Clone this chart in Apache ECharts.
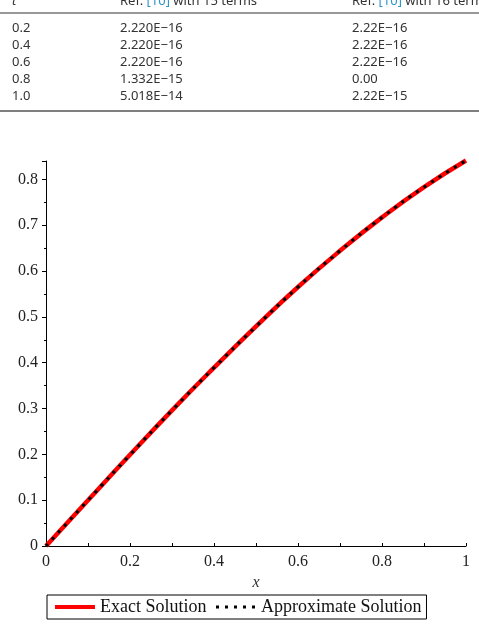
<!DOCTYPE html>
<html>
<head>
<meta charset="utf-8">
<script src="https://cdn.jsdelivr.net/npm/echarts@6/dist/echarts.min.js"></script>
<style>
  html, body { margin: 0; padding: 0; background: #fff; }
  #chart { width: 479px; height: 625px; }
</style>
</head>
<body>
<div id="chart"></div>
<script>
// Table above the plot
const tableT = ['0.2', '0.4', '0.6', '0.8', '1.0'];
const ref15 = ['2.220E\u221216', '2.220E\u221216', '2.220E\u221216', '1.332E\u221215', '5.018E\u221214'];
const ref16 = ['2.22E\u221216', '2.22E\u221216', '2.22E\u221216', '0.00', '2.22E\u221215'];

// Plot data
const xVals = [0, 0.1, 0.2, 0.3, 0.4, 0.5, 0.6, 0.7, 0.8, 0.9, 1.0];
const exactVals = [0, 0.0998, 0.199, 0.296, 0.389, 0.479, 0.565, 0.644, 0.717, 0.783, 0.841];
const approxVals = [0, 0.0998, 0.199, 0.296, 0.389, 0.479, 0.565, 0.644, 0.717, 0.783, 0.841];

const serif = '"Liberation Serif", "Times New Roman", serif';
const tableFont = '"Noto Sans", sans-serif';
const tfont = '13px ' + tableFont;

const chart = echarts.init(document.getElementById('chart'));

// table graphics
const rowY = [28, 45, 62, 79, 96.5];
const colX = [12, 120, 352];
const tableGraphics = [
  { type: 'line', shape: { x1: 0, y1: 13, x2: 479, y2: 13 }, style: { stroke: '#333', lineWidth: 1.2 } },
  { type: 'line', shape: { x1: 0, y1: 111, x2: 479, y2: 111 }, style: { stroke: '#555', lineWidth: 1.5 } },
  { type: 'text', x: colX[0], y: 1, style: { text: 't', font: 'italic ' + tfont, fill: '#333', verticalAlign: 'middle' } },
  {
    type: 'text', x: colX[1], y: 1,
    style: {
      text: 'Ref. {b|[10]} with 15 terms', font: tfont, fill: '#333', verticalAlign: 'middle',
      rich: { b: { fill: '#2e95c8', font: tfont } }
    }
  },
  {
    type: 'text', x: colX[2], y: 1,
    style: {
      text: 'Ref. {b|[10]} with 16 terms', font: tfont, fill: '#333', verticalAlign: 'middle',
      rich: { b: { fill: '#2e95c8', font: tfont } }
    }
  }
];
tableT.forEach((t, i) => {
  [t, ref15[i], ref16[i]].forEach((txt, j) => {
    tableGraphics.push({
      type: 'text', x: colX[j], y: rowY[i],
      style: { text: txt, font: tfont, fill: '#333', verticalAlign: 'middle' }
    });
  });
});

chart.setOption({
  animation: false,
  graphic: tableGraphics,
  grid: { left: 46, right: 13, top: 161, bottom: 79, containLabel: false },
  legend: {
    left: 47,
    top: 595,
    orient: 'horizontal',
    padding: [3, 5, 3, 6],
    borderColor: '#000',
    borderWidth: 1,
    itemWidth: 40,
    itemHeight: 16,
    itemGap: 8,
    itemStyle: { opacity: 0 },
    textStyle: { fontFamily: serif, fontSize: 18, color: '#111' },
    data: [
      { name: 'Exact Solution', lineStyle: { width: 4 } },
      { name: 'Approximate Solution', lineStyle: { width: 3 } }
    ]
  },
  xAxis: {
    type: 'value',
    min: 0,
    max: 1,
    interval: 0.2,
    name: 'x',
    nameLocation: 'middle',
    nameGap: 28,
    nameTextStyle: { fontFamily: serif, fontStyle: 'italic', fontSize: 16, color: '#333' },
    axisLine: { lineStyle: { color: '#000', width: 1 } },
    axisTick: { inside: true, length: 3, lineStyle: { color: '#000' } },
    minorTick: { show: true, splitNumber: 2, length: 3, lineStyle: { color: '#000' } },
    splitLine: { show: false },
    axisLabel: {
      fontFamily: serif, fontSize: 16, color: '#222', margin: 8,
      formatter: v => (v === 0 ? '0' : v === 1 ? '1' : v.toFixed(1))
    }
  },
  yAxis: {
    type: 'value',
    min: 0,
    max: 0.84,
    interval: 0.1,
    axisLine: { show: true, lineStyle: { color: '#000', width: 1 } },
    axisTick: { show: true, length: 4, lineStyle: { color: '#000' } },
    minorTick: { show: true, splitNumber: 2, length: 2, lineStyle: { color: '#000' } },
    splitLine: { show: false },
    axisLabel: {
      fontFamily: serif, fontSize: 16, color: '#222', margin: 8,
      formatter: v => (v === 0 ? '0' : (Math.abs(v * 10 - Math.round(v * 10)) < 1e-6 ? v.toFixed(1) : ''))
    }
  },
  series: [
    {
      name: 'Exact Solution',
      type: 'line',
      data: xVals.map((x, i) => [x, exactVals[i]]),
      smooth: true,
      symbol: 'none',
      clip: false,
      itemStyle: { color: '#ff0000' },
      lineStyle: { color: '#ff0000', width: 4.5 }
    },
    {
      name: 'Approximate Solution',
      type: 'line',
      data: xVals.map((x, i) => [x, approxVals[i]]),
      smooth: true,
      symbol: 'none',
      clip: false,
      itemStyle: { color: '#000' },
      lineStyle: { color: '#000', width: 3, type: [3, 6], cap: 'butt' }
    }
  ]
});
</script>
</body>
</html>
